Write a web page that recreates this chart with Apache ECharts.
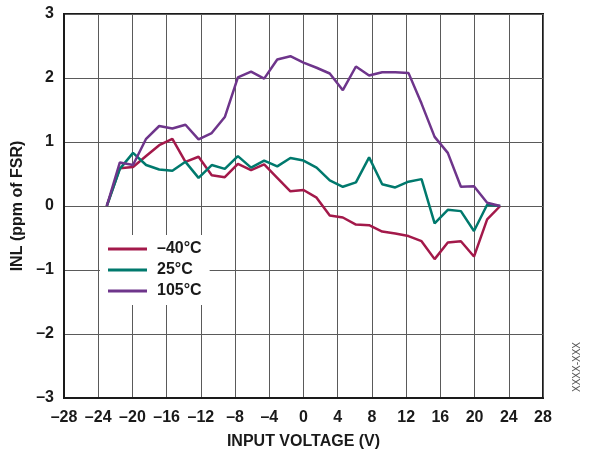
<!DOCTYPE html>
<html>
<head>
<meta charset="utf-8">
<script src="https://cdn.jsdelivr.net/npm/echarts@6/dist/echarts.min.js"></script>
<style>
  html, body { margin: 0; padding: 0; background: #fff; }
  #chart { width: 591px; height: 455px; }
</style>
</head>
<body>
<div id="chart"></div>
<script>
// Input voltage sample points (V)
var inputVoltage = [-23, -21.47, -19.93, -18.4, -16.87, -15.33, -13.8, -12.27, -10.73, -9.2,
  -7.67, -6.13, -4.6, -3.07, -1.53, 0, 1.53, 3.07, 4.6, 6.13,
  7.67, 9.2, 10.73, 12.27, 13.8, 15.33, 16.87, 18.4, 19.93, 21.47, 23];

// INL (ppm of FSR) at each temperature
var inlMinus40 = [0, 0.59, 0.61, 0.78, 0.95, 1.05, 0.69, 0.77, 0.48, 0.45,
  0.66, 0.56, 0.65, 0.44, 0.23, 0.25, 0.13, -0.15, -0.18, -0.29,
  -0.30, -0.40, -0.43, -0.47, -0.55, -0.83, -0.57, -0.55, -0.79, -0.21, 0];
var inl25 = [0, 0.58, 0.83, 0.64, 0.57, 0.55, 0.69, 0.44, 0.64, 0.58,
  0.78, 0.60, 0.71, 0.62, 0.75, 0.71, 0.60, 0.40, 0.30, 0.37,
  0.76, 0.34, 0.29, 0.38, 0.42, -0.27, -0.06, -0.08, -0.39, 0.02, 0];
var inl105 = [0, 0.68, 0.64, 1.05, 1.25, 1.21, 1.27, 1.04, 1.14, 1.39,
  2.01, 2.10, 1.99, 2.29, 2.34, 2.24, 2.16, 2.07, 1.81, 2.18,
  2.04, 2.09, 2.09, 2.08, 1.60, 1.08, 0.83, 0.30, 0.31, 0.05, 0];

var seriesNames = ['\u201340\u00B0C', '25\u00B0C', '105\u00B0C'];
var seriesColors = ['#A3194A', '#00796D', '#6E358B'];
var seriesValues = [inlMinus40, inl25, inl105];

function pairs(ys) {
  return inputVoltage.map(function (x, i) { return [x, ys[i]]; });
}
function dashMinus(v) {
  return v < 0 ? '\u2013' + Math.abs(v) : String(v);
}

var font = 'Liberation Sans, Arial, sans-serif';
var ink = '#1a1a1a';
var chart = echarts.init(document.getElementById('chart'), null, { renderer: 'canvas' });

chart.setOption({
  animation: false,
  backgroundColor: '#fff',
  grid: {
    left: 64, right: 48, top: 14, bottom: 57,
    show: true, borderColor: ink, borderWidth: 2
  },
  xAxis: {
    type: 'value', min: -28, max: 28, interval: 4,
    name: 'INPUT VOLTAGE (V)', nameLocation: 'middle', nameGap: 36,
    nameTextStyle: { fontFamily: font, fontWeight: 'bold', fontSize: 16, color: ink },
    axisLine: { show: true, onZero: false, lineStyle: { color: ink, width: 2 } },
    axisTick: { show: false },
    axisLabel: { formatter: dashMinus, fontFamily: font, fontWeight: 'bold', fontSize: 16, color: ink, margin: 12 },
    splitLine: { show: true, lineStyle: { color: '#5a5a5a', width: 1 } }
  },
  yAxis: {
    type: 'value', min: -3, max: 3, interval: 1,
    name: 'INL (ppm of FSR)', nameLocation: 'middle', nameGap: 27,
    nameTextStyle: { fontFamily: font, fontWeight: 'bold', fontSize: 16, color: ink },
    axisLine: { show: true, onZero: false, lineStyle: { color: ink, width: 2 } },
    axisTick: { show: false },
    axisLabel: { formatter: dashMinus, fontFamily: font, fontWeight: 'bold', fontSize: 16, color: ink, margin: 10, padding: [4, 0, 0, 0] },
    splitLine: { show: true, lineStyle: { color: '#5a5a5a', width: 1 } }
  },
  legend: {
    orient: 'vertical', left: 100, top: 235,
    backgroundColor: '#fff', padding: [6, 8, 6, 8],
    itemWidth: 39, itemHeight: 3, itemGap: 5,
    icon: 'rect',
    textStyle: { fontFamily: font, fontWeight: 'bold', fontSize: 16, color: ink, lineHeight: 14, padding: [0, 0, 0, 5] },
    data: seriesNames
  },
  series: seriesNames.map(function (name, i) {
    return {
      name: name, type: 'line', symbol: 'none',
      data: pairs(seriesValues[i]),
      itemStyle: { color: seriesColors[i] },
      lineStyle: { color: seriesColors[i], width: 2.5 }
    };
  }),
  graphic: [{
    type: 'text', left: 572, top: 342, rotation: Math.PI / 2,
    style: { text: 'XXXX-XXX', fontFamily: font, fontSize: 10, fill: '#555' }
  }]
});
</script>
</body>
</html>
